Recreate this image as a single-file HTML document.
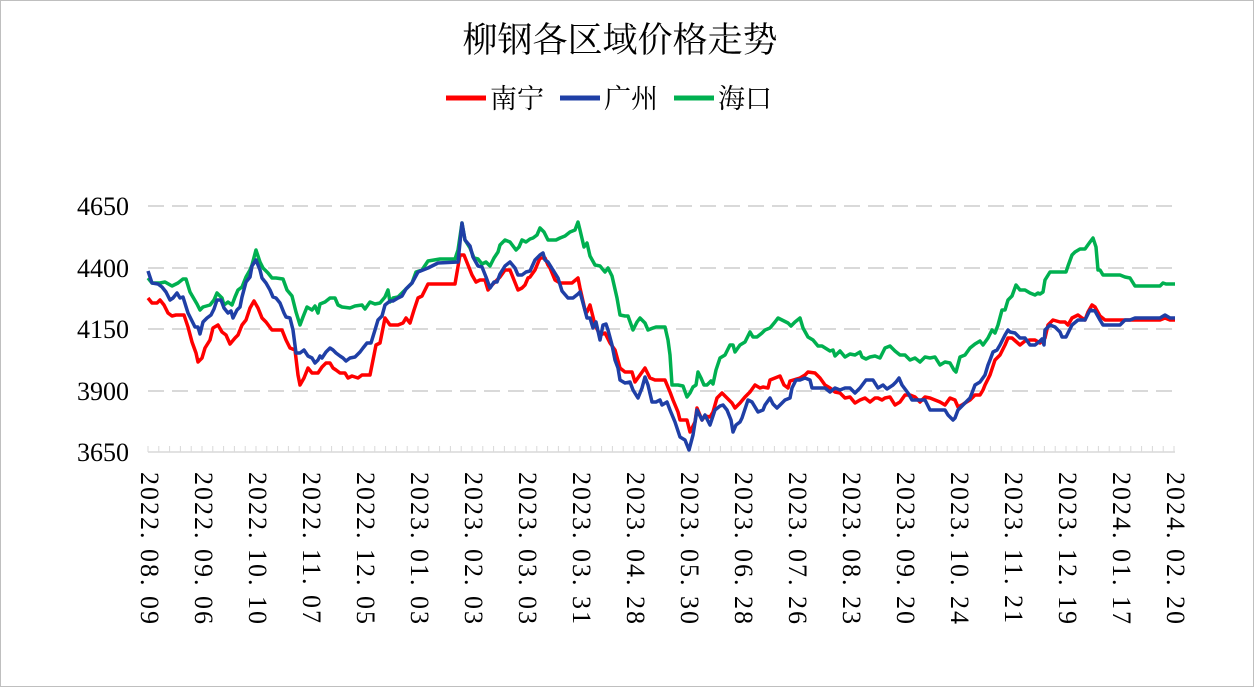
<!DOCTYPE html>
<html><head><meta charset="utf-8"><style>
html,body{margin:0;padding:0;background:#fff}
svg{display:block}
</style></head><body>
<svg width="1254" height="687" viewBox="0 0 1254 687" xmlns="http://www.w3.org/2000/svg">
<rect x="0.5" y="0.5" width="1253" height="686" fill="#fff" stroke="#bfbfbf"/>
<text x="620" y="52" text-anchor="middle" font-family="'Liberation Serif','Noto Serif CJK SC',serif" font-size="35" fill="#000">柳钢各区域价格走势</text>
<g font-family="'Liberation Serif','Noto Serif CJK SC',serif" font-size="27" fill="#000">
<line x1="446" y1="98" x2="486" y2="98" stroke="#ff0000" stroke-width="5"/>
<text x="490" y="108">南宁</text>
<line x1="560" y1="98" x2="600" y2="98" stroke="#1f3fa6" stroke-width="5"/>
<text x="604" y="108">广州</text>
<line x1="674" y1="98" x2="714" y2="98" stroke="#00b050" stroke-width="5"/>
<text x="718" y="108">海口</text>
</g>
<g stroke="#d9d9d9" stroke-width="2" stroke-dasharray="16,8">
<line x1="148" y1="206" x2="1175" y2="206"/>
<line x1="148" y1="268" x2="1175" y2="268"/>
<line x1="148" y1="329" x2="1175" y2="329"/>
<line x1="148" y1="391" x2="1175" y2="391"/>
</g>
<line x1="148" y1="452" x2="1175" y2="452" stroke="#d9d9d9" stroke-width="1.5"/>
<path stroke="#d9d9d9" stroke-width="1" d="M148 452V446M158.8 452V446M169.6 452V446M180.4 452V446M191.2 452V446M202 452V446M212.8 452V446M223.6 452V446M234.4 452V446M245.2 452V446M256 452V446M266.8 452V446M277.6 452V446M288.4 452V446M299.2 452V446M310 452V446M320.8 452V446M331.6 452V446M342.4 452V446M353.2 452V446M364 452V446M374.8 452V446M385.6 452V446M396.4 452V446M407.2 452V446M418 452V446M428.8 452V446M439.6 452V446M450.4 452V446M461.2 452V446M472 452V446M482.8 452V446M493.6 452V446M504.4 452V446M515.2 452V446M526 452V446M536.8 452V446M547.6 452V446M558.4 452V446M569.2 452V446M580 452V446M590.8 452V446M601.6 452V446M612.4 452V446M623.2 452V446M634 452V446M644.8 452V446M655.6 452V446M666.4 452V446M677.2 452V446M688 452V446M698.8 452V446M709.6 452V446M720.4 452V446M731.2 452V446M742 452V446M752.8 452V446M763.6 452V446M774.4 452V446M785.2 452V446M796 452V446M806.8 452V446M817.6 452V446M828.4 452V446M839.2 452V446M850 452V446M860.8 452V446M871.6 452V446M882.4 452V446M893.2 452V446M904 452V446M914.8 452V446M925.6 452V446M936.4 452V446M947.2 452V446M958 452V446M968.8 452V446M979.6 452V446M990.4 452V446M1001.2 452V446M1012 452V446M1022.8 452V446M1033.6 452V446M1044.4 452V446M1055.2 452V446M1066 452V446M1076.8 452V446M1087.6 452V446M1098.4 452V446M1109.2 452V446M1120 452V446M1130.8 452V446M1141.6 452V446M1152.4 452V446M1163.2 452V446M1174 452V446"/>
<g font-family="'Liberation Serif',serif" font-size="26" fill="#000" text-anchor="end">
<text x="129" y="215">4650</text>
<text x="129" y="277">4400</text>
<text x="129" y="338">4150</text>
<text x="129" y="400">3900</text>
<text x="129" y="461">3650</text>
</g>
<g font-family="'Liberation Serif','Noto Serif CJK SC',serif" font-size="26" letter-spacing="2" fill="#000">
<text transform="translate(141,472) rotate(90)">2022. 08. 09</text>
<text transform="translate(195,472) rotate(90)">2022. 09. 06</text>
<text transform="translate(249,472) rotate(90)">2022. 10. 10</text>
<text transform="translate(303,472) rotate(90)">2022. 11. 07</text>
<text transform="translate(357,472) rotate(90)">2022. 12. 05</text>
<text transform="translate(411,472) rotate(90)">2023. 01. 03</text>
<text transform="translate(465,472) rotate(90)">2023. 02. 03</text>
<text transform="translate(519,472) rotate(90)">2023. 03. 03</text>
<text transform="translate(573,472) rotate(90)">2023. 03. 31</text>
<text transform="translate(627,472) rotate(90)">2023. 04. 28</text>
<text transform="translate(681,472) rotate(90)">2023. 05. 30</text>
<text transform="translate(735,472) rotate(90)">2023. 06. 28</text>
<text transform="translate(789,472) rotate(90)">2023. 07. 26</text>
<text transform="translate(843,472) rotate(90)">2023. 08. 23</text>
<text transform="translate(897,472) rotate(90)">2023. 09. 20</text>
<text transform="translate(951,472) rotate(90)">2023. 10. 24</text>
<text transform="translate(1005,472) rotate(90)">2023. 11. 21</text>
<text transform="translate(1059,472) rotate(90)">2023. 12. 19</text>
<text transform="translate(1113,472) rotate(90)">2024. 01. 17</text>
<text transform="translate(1167,472) rotate(90)">2024. 02. 20</text>
</g>
<g fill="none" stroke-width="3.5" stroke-linejoin="round">
<polyline stroke="#00b050" points="148,278 152,283 160,283 165,282 172,286 178,283 183,279 186,279 190,292 197,304 200,310 203,307 210,305 214,300 217,293 222,298 224,305 228,302 232,305 235,297 238,290 242,287 246,277 250,270 252,265 256,250 260,262 263,268 268,273 272,278 276,278 283,279 287,290 292,296 296,312 300,325 303,317 307,307 312,310 315,306 318,313 320,304 325,302 330,298 335,298 338,305 342,307 350,308 355,306 362,305 365,309 370,302 375,304 380,303 385,297 388,290 390,302 393,298 398,297 402,293 406,289 412,283 416,272 422,270 428,261 440,259 455,259 458,250 462,223 465,240 470,248 474,258 478,259 482,264 486,262 490,266 494,258 498,252 500,245 505,240 510,242 513,246 516,250 519,247 522,240 526,242 530,239 533,238 537,235 540,228 544,232 548,240 556,240 560,238 565,236 570,232 575,230 578,222 580,230 584,247 587,243 590,256 595,265 600,266 605,272 608,268 612,276 617,298 620,315 625,316 628,316 633,330 637,322 640,318 645,323 648,330 653,328 656,327 665,327 668,340 670,355 672,385 678,385 683,386 687,397 690,393 693,387 696,385 698,372 701,378 704,385 707,385 711,381 713,384 716,370 720,358 725,355 730,345 733,345 735,352 740,345 745,342 750,332 753,337 757,337 762,333 765,330 770,328 775,322 778,318 782,320 788,323 791,326 795,322 800,318 803,328 808,337 813,340 818,346 822,346 830,351 833,350 835,356 840,351 845,357 850,354 855,355 860,352 862,357 866,359 870,357 875,356 880,358 885,348 890,346 895,351 900,355 905,355 910,360 915,358 920,362 925,357 930,358 935,357 940,365 945,362 950,363 954,370 956,372 960,357 965,355 970,348 975,344 980,341 983,345 988,338 992,330 995,333 998,325 1002,310 1005,310 1008,300 1012,296 1016,285 1020,290 1025,290 1030,293 1035,295 1038,293 1040,294 1043,292 1045,280 1050,272 1066,272 1068,266 1072,255 1075,252 1080,249 1085,249 1090,242 1093,238 1096,247 1098,270 1100,270 1103,275 1120,275 1125,277 1130,278 1135,286 1160,286 1163,283 1166,284 1175,284"/>
<polyline stroke="#ff0000" points="148,298 152,303 157,303 160,300 164,305 168,313 172,316 176,315 184,315 188,327 192,342 196,353 198,362 202,358 205,348 210,340 213,328 218,325 222,332 226,335 230,344 235,338 238,335 242,325 246,320 250,308 254,301 258,308 262,318 266,322 272,330 282,330 286,340 290,348 295,350 298,375 300,385 304,378 308,368 312,373 318,373 322,367 326,363 330,363 333,368 336,370 340,373 345,373 348,378 352,376 358,378 362,375 370,375 372,365 376,345 380,343 385,318 390,325 398,325 403,323 406,318 410,323 414,310 418,298 422,296 428,284 455,284 460,255 464,255 468,265 472,275 476,282 480,280 485,280 488,290 492,285 497,280 500,277 505,270 510,270 514,280 518,290 522,288 525,285 528,278 530,277 535,270 540,258 545,258 548,265 550,268 555,280 560,283 572,283 578,278 580,288 585,310 587,312 590,305 595,325 600,335 605,333 610,343 615,350 620,368 625,372 632,372 635,382 640,375 645,368 650,378 655,380 665,380 670,392 673,400 678,412 680,420 687,420 690,432 695,422 697,408 702,420 705,416 710,417 713,412 717,398 722,393 727,398 732,403 735,408 740,403 745,397 750,392 755,385 760,388 763,387 768,388 770,380 775,378 780,376 784,385 788,388 790,381 800,378 805,375 808,372 815,373 820,378 825,385 830,388 835,392 840,393 845,398 850,397 855,403 860,400 865,398 870,402 875,398 878,398 882,400 885,398 890,397 895,405 900,402 905,395 910,395 915,397 920,402 925,397 930,398 935,400 940,402 945,405 950,398 955,400 958,407 962,405 965,403 970,400 975,395 980,395 983,390 985,385 990,375 995,360 1000,355 1005,345 1008,338 1012,338 1020,345 1025,341 1030,340 1035,340 1040,343 1045,338 1048,325 1050,323 1053,320 1060,322 1065,322 1068,325 1072,318 1078,315 1082,318 1085,320 1088,312 1092,305 1095,307 1100,316 1105,320 1160,320 1165,318 1170,320 1175,320"/>
<polyline stroke="#1f3fa6" points="148,271 152,283 158,284 162,287 166,292 170,300 173,298 177,293 180,298 183,297 188,313 195,327 198,327 200,334 203,322 207,318 211,315 214,309 217,300 221,300 224,308 228,313 231,311 233,318 237,310 240,307 242,297 246,282 250,277 252,266 256,260 260,270 262,278 266,283 270,290 273,297 276,298 280,303 284,313 286,317 290,318 293,330 296,353 300,353 304,350 308,356 312,358 315,363 318,360 320,356 322,358 326,352 330,348 333,350 336,353 340,356 343,358 346,361 350,358 355,357 360,352 363,348 367,343 371,343 375,330 378,320 382,316 385,305 390,301 393,301 398,298 402,296 406,289 412,283 418,272 428,268 438,263 458,262 462,223 465,240 470,246 473,257 478,266 482,267 486,277 490,288 494,282 497,282 500,274 505,266 510,262 515,268 518,275 522,275 526,272 530,271 535,260 540,255 543,253 545,260 548,262 553,270 558,278 562,291 568,298 573,298 578,294 580,292 583,303 587,318 590,318 593,328 596,322 600,340 603,325 606,324 608,330 612,345 615,360 618,368 620,380 625,383 630,382 633,390 638,398 642,388 645,377 648,385 652,402 656,402 660,400 662,405 667,402 670,410 675,422 680,437 685,440 689,450 693,435 697,410 702,420 705,415 710,425 715,410 720,406 723,405 727,410 731,420 733,432 736,425 740,422 742,418 744,412 748,400 752,402 758,412 763,410 765,405 770,398 773,404 777,408 780,405 785,400 790,398 792,388 796,380 800,380 805,378 810,380 812,388 825,388 830,392 835,388 840,390 845,388 850,388 855,393 860,388 866,380 873,380 878,388 883,385 887,389 893,385 896,382 899,378 902,385 908,393 912,400 925,400 930,410 945,410 948,415 953,420 955,418 958,410 965,403 970,398 972,393 975,385 980,382 985,375 988,365 990,360 993,352 997,350 1000,345 1005,335 1008,330 1010,332 1015,333 1020,338 1025,338 1030,345 1035,345 1040,341 1042,339 1044,345 1045,330 1050,325 1055,327 1060,332 1062,337 1066,337 1072,325 1078,320 1085,320 1090,310 1095,311 1100,320 1103,325 1120,325 1125,320 1130,320 1135,318 1160,318 1165,315 1170,318 1175,318"/>
</g>
</svg>
</body></html>
